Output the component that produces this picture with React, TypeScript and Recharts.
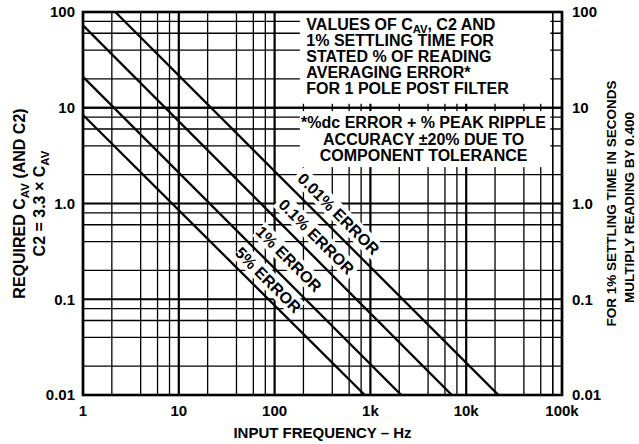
import React from "react";
import {
  ComposedChart,
  Line,
  XAxis,
  YAxis,
  ReferenceLine,
  ReferenceArea,
  ReferenceDot,
} from "recharts";

// ---- data ----
const errorLabels = ["0.01% ERROR", "0.1% ERROR", "1% ERROR", "5% ERROR"];
const startFreq = [2.17, 1, 1, 1];
const startCap = [100, 72.7, 21, 8.4];
const endFreq = [21700, 7080, 2100, 873];
const endCap = [0.01, 0.01, 0.01, 0.01];

const xTicks = [1, 10, 100, 1000, 10000, 100000];
const xTickLabels = ["1", "10", "100", "1k", "10k", "100k"];
const yTicks = [0.01, 0.1, 1, 10, 100];
const yTickLabels = ["0.01", "0.1", "1.0", "10", "100"];

const xMinorGrid = [
  2, 4, 6, 8, 20, 40, 60, 80, 200, 400, 600, 800, 2000, 4000, 6000, 8000,
  20000, 40000, 60000, 80000,
];
const yMinorGrid = [
  0.02, 0.04, 0.06, 0.08, 0.2, 0.4, 0.6, 0.8, 2, 4, 6, 8, 20, 40, 60, 80,
];

const box1Lines = [
  "VALUES OF C_AV, C2 AND",
  "1% SETTLING TIME FOR",
  "STATED % OF READING",
  "AVERAGING ERROR*",
  "FOR 1 POLE POST FILTER",
];
const box2Lines = [
  "*%dc ERROR + % PEAK RIPPLE",
  "ACCURACY ±20% DUE TO",
  "COMPONENT TOLERANCE",
];

const seriesData = errorLabels.map((_, i) => [
  { f: startFreq[i], c: startCap[i] },
  { f: endFreq[i], c: endCap[i] },
]);

const FONT = '"Liberation Sans", Arial, Helvetica, sans-serif';

const renderSub = (line: string, size: number) => {
  const idx = line.indexOf("_AV");
  if (idx < 0) return line;
  return (
    <>
      {line.slice(0, idx)}
      <tspan fontSize={size * 0.7} dy={3}>
        AV
      </tspan>
      <tspan dy={-3}>{line.slice(idx + 3)}</tspan>
    </>
  );
};

const Box1Shape = (props: any) => {
  const { x, y, width, height } = props;
  return (
    <g>
      <rect x={x} y={y} width={width} height={height} fill="#fff" />
      {box1Lines.map((t, i) => (
        <text
          key={i}
          x={x + 6.5}
          y={y + 17.5 + i * 16}
          fontSize={16}
          fontWeight="bold"
          fontFamily={FONT}
          fill="#000"
        >
          {renderSub(t, 16)}
        </text>
      ))}
    </g>
  );
};

const Box2Shape = (props: any) => {
  const { x, y, width, height } = props;
  return (
    <g>
      <rect x={x} y={y} width={width} height={height} fill="#fff" />
      {box2Lines.map((t, i) => (
        <text
          key={i}
          x={x + width / 2 - 1.5}
          y={y + 17.3 + i * 16.4}
          textAnchor="middle"
          fontSize={16}
          fontWeight="bold"
          fontFamily={FONT}
          fill="#000"
        >
          {t}
        </text>
      ))}
    </g>
  );
};

const makeLabelShape = (text: string) => (props: any) => {
  const { cx, cy } = props;
  const w = text.length * 9.9 + 6;
  return (
    <g transform={`translate(${cx},${cy}) rotate(45)`}>
      <rect x={-w / 2} y={-9.5} width={w} height={19} fill="#fff" />
      <text
        x={0}
        y={0}
        dy="0.36em"
        textAnchor="middle"
        fontSize={16}
        fontWeight="bold"
        fontFamily={FONT}
        fill="#000"
      >
        {text}
      </text>
    </g>
  );
};

const FrameShape = (props: any) => {
  const { x, y, width, height } = props;
  const cy = y + height / 2;
  const lx1 = x - 58;
  const lx2 = x - 38;
  const rx1 = x + width + 54;
  const rx2 = x + width + 72;
  return (
    <g>
      <rect
        x={x}
        y={y}
        width={width}
        height={height}
        fill="none"
        stroke="#000"
        strokeWidth={2.6}
      />
      <text
        x={x + width / 2}
        y={y + height + 43}
        textAnchor="middle"
        fontSize={15}
        fontWeight="bold"
        fontFamily={FONT}
        fill="#000"
      >
        INPUT FREQUENCY – Hz
      </text>
      <text
        transform={`translate(${lx1},${cy}) rotate(-90)`}
        textAnchor="middle"
        fontSize={16}
        fontWeight="bold"
        fontFamily={FONT}
        fill="#000"
      >
        REQUIRED C
        <tspan fontSize={11.5} dy={4}>
          AV
        </tspan>
        <tspan dy={-4}> (AND C2)</tspan>
      </text>
      <text
        transform={`translate(${lx2},${cy}) rotate(-90)`}
        textAnchor="middle"
        fontSize={16}
        fontWeight="bold"
        fontFamily={FONT}
        fill="#000"
      >
        C2 = 3.3 × C
        <tspan fontSize={11.5} dy={4}>
          AV
        </tspan>
      </text>
      <text
        transform={`translate(${rx1},${cy}) rotate(-90)`}
        textAnchor="middle"
        fontSize={13.5}
        fontWeight="bold"
        fontFamily={FONT}
        fill="#000"
      >
        FOR 1% SETTLING TIME IN SECONDS
      </text>
      <text
        transform={`translate(${rx2},${cy + 4}) rotate(-90)`}
        textAnchor="middle"
        fontSize={13.5}
        fontWeight="bold"
        fontFamily={FONT}
        fill="#000"
      >
        MULTIPLY READING BY 0.400
      </text>
    </g>
  );
};

const tickStyle = {
  fontSize: 15,
  fontWeight: "bold" as const,
  fill: "#000",
  fontFamily: FONT,
};

export default function App() {
  return (
    <div
      style={{
        position: "absolute",
        left: 0,
        top: 0,
        width: 639,
        height: 444,
        background: "#fff",
      }}
    >
      <ComposedChart
        width={639}
        height={444}
        margin={{ top: 12, right: 0, bottom: 0, left: 0 }}
      >
        <XAxis
          type="number"
          dataKey="f"
          scale="log"
          domain={[1, 100000]}
          ticks={xTicks}
          interval={0}
          allowDataOverflow
          tickFormatter={(v: number) => xTickLabels[xTicks.indexOf(v)] ?? ""}
          axisLine={false}
          tickLine={false}
          tickSize={8}
          tickMargin={2}
          height={49}
          tick={tickStyle}
        />
        <YAxis
          yAxisId="left"
          type="number"
          scale="log"
          domain={[0.01, 100]}
          ticks={yTicks}
          interval={0}
          allowDataOverflow
          tickFormatter={(v: number) => yTickLabels[yTicks.indexOf(v)] ?? ""}
          axisLine={false}
          tickLine={false}
          tickSize={6}
          tickMargin={2}
          width={83}
          tick={tickStyle}
        />
        <YAxis
          yAxisId="right"
          orientation="right"
          type="number"
          scale="log"
          domain={[0.01, 100]}
          ticks={yTicks}
          interval={0}
          allowDataOverflow
          tickFormatter={(v: number) => yTickLabels[yTicks.indexOf(v)] ?? ""}
          axisLine={false}
          tickLine={false}
          tickSize={8}
          tickMargin={2}
          width={77}
          tick={tickStyle}
        />

        {xMinorGrid.map((v) => (
          <ReferenceLine
            key={"xm" + v}
            yAxisId="left"
            x={v}
            stroke="#000"
            strokeWidth={1.3}
            zIndex={10}
          />
        ))}
        {yMinorGrid.map((v) => (
          <ReferenceLine
            key={"ym" + v}
            yAxisId="left"
            y={v}
            stroke="#000"
            strokeWidth={1.3}
            zIndex={10}
          />
        ))}
        {xTicks.map((v) => (
          <ReferenceLine
            key={"xd" + v}
            yAxisId="left"
            x={v}
            stroke="#000"
            strokeWidth={2.2}
            zIndex={10}
          />
        ))}
        {yTicks.map((v) => (
          <ReferenceLine
            key={"yd" + v}
            yAxisId="left"
            y={v}
            stroke="#000"
            strokeWidth={2.2}
            zIndex={10}
          />
        ))}

        <ReferenceArea
          yAxisId="left"
          x1={183.5}
          x2={75500}
          y1={11.0}
          y2={100}
          shape={Box1Shape}
          zIndex={20}
        />
        <ReferenceArea
          yAxisId="left"
          x1={183.5}
          x2={75500}
          y1={2.4}
          y2={9.22}
          shape={Box2Shape}
          zIndex={20}
        />
        <ReferenceLine
          yAxisId="left"
          y={10}
          stroke="#000"
          strokeWidth={2.2}
          zIndex={30}
        />
        <ReferenceLine
          yAxisId="left"
          x={80000}
          stroke="#000"
          strokeWidth={1.3}
          zIndex={30}
        />

        <ReferenceDot yAxisId="left" x={467} y={0.78} r={0} zIndex={40} shape={makeLabelShape(errorLabels[0])} />
        <ReferenceDot yAxisId="left" x={274} y={0.451} r={0} zIndex={40} shape={makeLabelShape(errorLabels[1])} />
        <ReferenceDot yAxisId="left" x={141} y={0.264} r={0} zIndex={40} shape={makeLabelShape(errorLabels[2])} />
        <ReferenceDot yAxisId="left" x={86} y={0.159} r={0} zIndex={40} shape={makeLabelShape(errorLabels[3])} />

        {seriesData.map((d, i) => (
          <Line
            key={errorLabels[i]}
            yAxisId="left"
            data={d}
            dataKey="c"
            type="linear"
            stroke="#000"
            strokeWidth={2.3}
            dot={false}
            activeDot={false}
            isAnimationActive={false}
            zIndex={50}
          />
        ))}

        <ReferenceArea
          yAxisId="left"
          x1={1}
          x2={100000}
          y1={0.01}
          y2={100}
          shape={FrameShape}
          zIndex={60}
        />
      </ComposedChart>
    </div>
  );
}
